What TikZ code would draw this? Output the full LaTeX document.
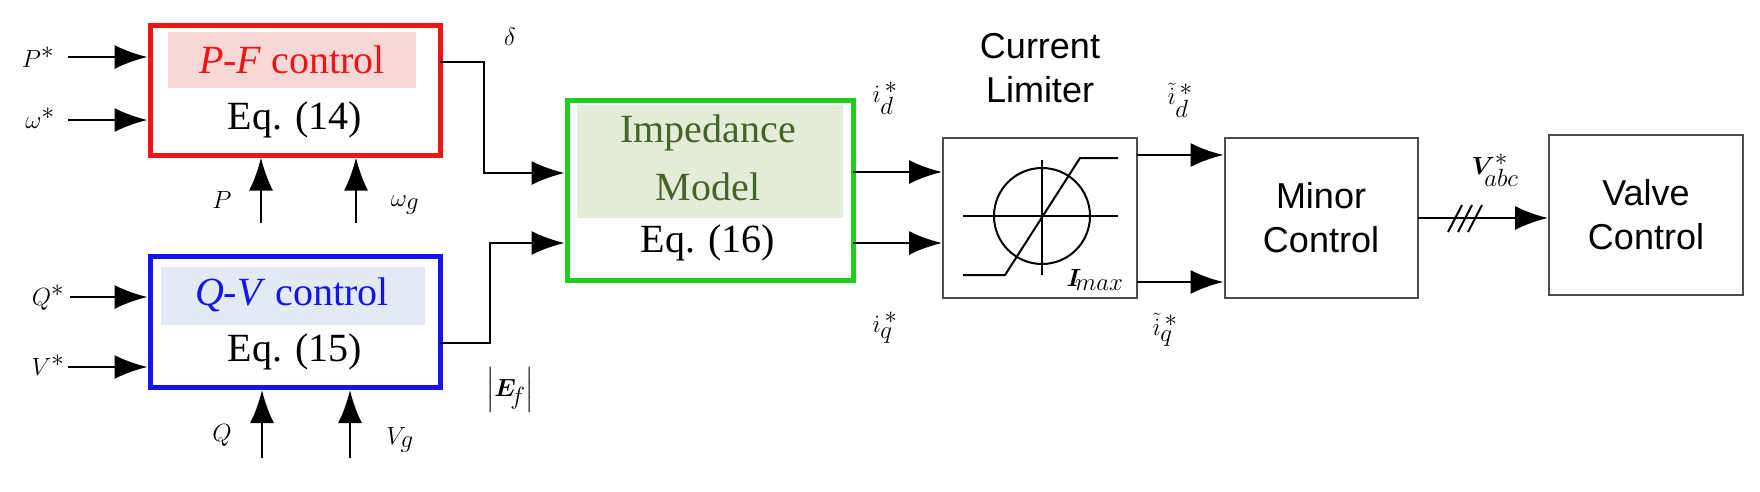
\documentclass[tikz,border=0pt]{standalone}
\usepackage{amsmath,bm}
\usepackage{fontspec}
\setmainfont{Liberation Serif}
\newfontfamily\sansf{Liberation Sans}
\usetikzlibrary{arrows.meta}
\definecolor{pfred}{RGB}{240,20,20}
\definecolor{pfbg}{RGB}{248,215,215}
\definecolor{qvblue}{RGB}{20,20,240}
\definecolor{qvbg}{RGB}{226,234,246}
\definecolor{gbox}{RGB}{30,205,30}
\definecolor{gbg}{RGB}{226,236,216}
\definecolor{gtext}{RGB}{70,100,40}
\begin{document}
\begin{tikzpicture}[x=1pt,y=-1pt,
  conn/.style={line width=2.4pt,-{Latex[length=33pt,width=24pt]}},
  wire/.style={line width=2.4pt},
  lab/.style={inner sep=0pt,font=\fontsize{50}{55}\selectfont},
  txt/.style={inner sep=0pt,font=\fontsize{40}{46}\selectfont},
  stxt/.style={inner sep=0pt,align=center,font=\sansf\fontsize{36}{44}\selectfont},
  blk/.style={draw,line width=5pt,minimum width=#1,inner sep=0pt},
  gbk/.style={draw=black!70,line width=2pt,minimum width=194pt,minimum height=160pt,inner sep=0pt}]
\useasboundingbox (0,0) rectangle (1760,491);
% highlights
\fill[pfbg] (168,32) rectangle (416,88);
\fill[qvbg] (161,267) rectangle (425,325);
\fill[gbg] (577,105) rectangle (843,218);
% blocks
\node[blk=290pt,draw=pfred,minimum height=130pt] (pf) at (295,90) {};
\node[blk=290pt,draw=qvblue,minimum height=131pt] (qv) at (295,322) {};
\node[blk=286pt,draw=gbox,minimum height=180pt] (im) at (710,190) {};
\node[gbk] (cl) at (1040,218) {};
\node[gbk,minimum width=193pt] (mc) at (1321,218) {};
\node[gbk] (vc) at (1646,215) {};
% texts
\node[txt,text=pfred] (pft) at (292,60) {\textit{P-F} control};
\node[txt] (pfe) at (295,120) {Eq. (14)};
\node[txt,text=qvblue] (qvt) at (292,295) {\textit{Q-V} control};
\node[txt] (qve) at (295,352) {Eq. (15)};
\node[txt,text=gtext] (imt1) at (708,133) {Impedance};
\node[txt,text=gtext] (imt2) at (708,187) {Model};
\node[txt] (ime) at (708,243) {Eq. (16)};
\node[stxt] (clt) at (1040,68) {Current\\Limiter};
\node[stxt] (mct) at (1321,218) {Minor\\Control};
\node[stxt] (vct) at (1646,215) {Valve\\Control};
% limiter symbol
\draw[line width=2pt] (1042,216) circle (48);
\draw[line width=2pt] (963,216) -- (1118,216) (1042,160) -- (1042,275);
\draw[line width=2pt] (963,275) -- (1005,275) -- (1080,158) -- (1118,158);
\node[lab,font=\fontsize{40}{44}\selectfont] (imax) at (1095,280) {$\bm{I}_{\!max}$};
% input labels
\node[lab] (lP) at (38,57) {$P^*$};
\node[lab] (lw) at (40,118) {$\omega^*$};
\node[lab] (lQ) at (48,298) {$Q^*$};
\node[lab] (lV) at (48,365) {$V^*$};
\coordinate (iP) at (68,57);
\coordinate (iw) at (68,120);
\coordinate (iQ) at (70,297);
\coordinate (iV) at (68,367);
\draw[conn] (iP) -- (iP -| pf.west);
\draw[conn] (iw) -- (iw -| pf.west);
\draw[conn] (iQ) -- (iQ -| qv.west);
\draw[conn] (iV) -- (iV -| qv.west);
\coordinate (bP) at (261,223);
\coordinate (bw) at (356,223);
\coordinate (bQ) at (262,458);
\coordinate (bVg) at (350,458);
\draw[conn] (bP) -- (bP |- pf.south);
\draw[conn] (bw) -- (bw |- pf.south);
\draw[conn] (bQ) -- (bQ |- qv.south);
\draw[conn] (bVg) -- (bVg |- qv.south);
\node[lab] (lPm) at (222,200) {$P$};
\node[lab] (lwg) at (405,205) {$\omega_g$};
\node[lab] (lQm) at (222,435) {$Q$};
\node[lab] (lVg) at (400,440) {$V_g$};
% delta and Ef
\coordinate (d0) at (440,62);
\coordinate (d1) at (484,173);
\draw[conn] (d0) -| (d1) -- (d1 -| im.west);
\coordinate (e0) at (440,343);
\coordinate (e1) at (490,243);
\draw[conn] (e0) -| (e1) -- (e1 -| im.west);
\node[lab] (ld) at (510,37) {$\delta$};
\node[lab,font=\fontsize{44}{48}\selectfont] (lE) at (510,390) {$\left|\bm{E}_{\!f}\right|$};
% impedance to limiter
\coordinate (a1) at (853,172);
\coordinate (a2) at (853,243);
\draw[conn] (a1) -- (a1 -| cl.west);
\draw[conn] (a2) -- (a2 -| cl.west);
\node[lab] (lid) at (885,98) {$\dot{\imath}_d^{\,*}$};
\node[lab] (liq) at (885,328) {$\dot{\imath}_q^{\,*}$};
% limiter to minor
\coordinate (c1) at (1137,155);
\coordinate (c2) at (1137,282);
\draw[conn] (c1) -- (c1 -| mc.west);
\draw[conn] (c2) -- (c2 -| mc.west);
\node[lab,font=\fontsize{42}{46}\selectfont] (ltd) at (1180,100) {$\tilde{\dot{\imath}}_d^{\,*}$};
\node[lab,font=\fontsize{42}{46}\selectfont] (ltq) at (1165,330) {$\tilde{\dot{\imath}}_q^{\,*}$};
% minor to valve
\coordinate (m1) at (1418,218);
\draw[conn] (m1) -- (m1 -| vc.west);
\draw[line width=2pt] (1448,232) -- (1462,205) (1458,232) -- (1472,205) (1468,232) -- (1482,205);
\node[lab,font=\fontsize{46}{50}\selectfont] (lVabc) at (1495,170) {$\bm{V}^*_{\!abc}$};
\end{tikzpicture}
\end{document}
